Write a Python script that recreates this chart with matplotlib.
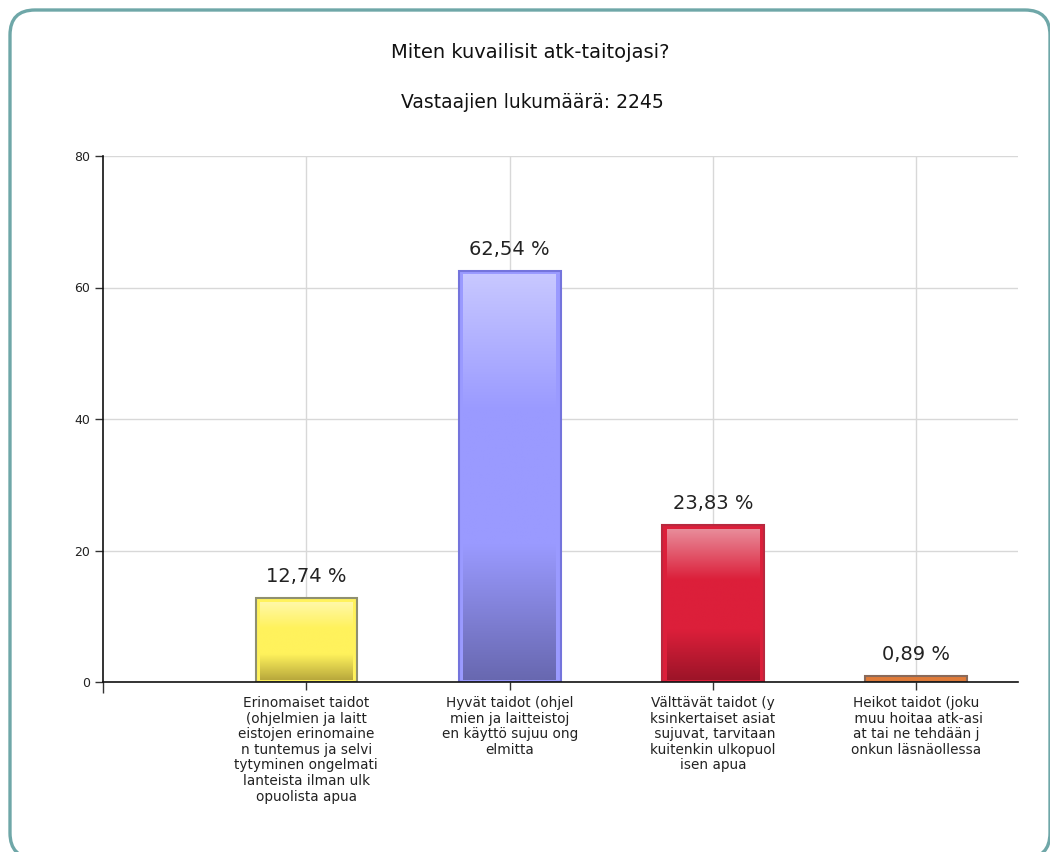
import numpy as np
import matplotlib
matplotlib.use("Agg")
from matplotlib import pyplot as plt
from matplotlib.patches import FancyBboxPatch, Rectangle
from matplotlib.colors import LinearSegmentedColormap
from matplotlib.transforms import IdentityTransform

title = "Miten kuvailisit atk-taitojasi?"
subtitle = "Vastaajien lukumäärä: 2245"

categories = [
    "Erinomaiset taidot\n(ohjelmien ja laitt\neistojen erinomaine\nn tuntemus ja selvi\ntytyminen ongelmati\nlanteista ilman ulk\nopuolista apua",
    "Hyvät taidot (ohjel\nmien ja laitteistoj\nen käyttö sujuu ong\nelmitta",
    "Välttävät taidot (y\nksinkertaiset asiat\n sujuvat, tarvitaan\nkuitenkin ulkopuol\nisen apua",
    "Heikot taidot (joku\n muu hoitaa atk-asi\nat tai ne tehdään j\nonkun läsnäollessa",
]
percents = [12.74, 62.54, 23.83, 0.89]
yticks = [0, 20, 40, 60, 80]

# (top, middle, bottom, edge) colours per bar
bar_colors = [
    ("#fff8a8", "#fff25c", "#b8a83c", "#8f9070"),
    ("#c8c8ff", "#9a9aff", "#6868b0", "#7474dc"),
    ("#e88c9a", "#dc1f3a", "#9c1428", "#b8283e"),
    ("#e8884a", "#e07b39", "#c8682c", "#8a6a5a"),
]

fig = plt.figure(figsize=(10.5, 8.52), dpi=100)
fig.patch.set_facecolor("white")

# rounded teal frame in pixel units, running off the right and bottom edges
frame = FancyBboxPatch((10, -6), 1040, 848, boxstyle="round,pad=0,rounding_size=25",
                       transform=IdentityTransform(), facecolor="none", edgecolor="#6fa7a8",
                       linewidth=2.4, zorder=-1)
fig.patches.append(frame)

ax = fig.add_axes([103 / 1050, 1 - 682 / 852, 915 / 1050, 526 / 852])
ax.set_facecolor("none")
ax.set_xlim(0, 4.5)
ax.set_ylim(0, 80)

x = np.arange(1, len(percents) + 1)
w = 0.5
for xi, val, (ctop, cmid, cbot, cedge) in zip(x, percents, bar_colors):
    x0 = xi - w / 2
    ax.add_patch(Rectangle((x0, 0), w, val, facecolor=cmid, edgecolor=cedge, linewidth=1.5, zorder=3))
    # inner gradient panel
    dx = 0.022
    dy = 4 * 80 / 526
    if val > 2 * dy:
        cmap = LinearSegmentedColormap.from_list("g", [cbot, cmid, cmid, ctop], N=256)
        grad = np.linspace(0, 1, 256).reshape(-1, 1)
        ax.imshow(grad, cmap=cmap, aspect="auto", origin="lower",
                  extent=(x0 + dx, x0 + w - dx, dy * 0.5, val - dy), zorder=4, interpolation="bilinear")
    ax.text(xi, val + 1.8, f"{val:.2f} %".replace(".", ","), ha="center", va="bottom",
            fontsize=14, color="#222222", zorder=5)

ax.set_xticks(x)
ax.set_xticklabels(categories, fontsize=9.8, color="#222222", linespacing=1.15)
ax.set_xticks([0], minor=True)
ax.set_yticks(yticks)
ax.set_yticklabels([str(v) for v in yticks], fontsize=9, color="#222222")
ax.tick_params(axis="both", which="both", direction="out", length=6, width=1, color="#333333")
ax.tick_params(axis="x", which="minor", length=8)
ax.tick_params(axis="x", pad=4)

ax.grid(True, color="#d8d8d8", linewidth=1, zorder=0)
ax.set_axisbelow(True)
for s in ["top", "right"]:
    ax.spines[s].set_visible(False)
for s in ["left", "bottom"]:
    ax.spines[s].set_color("#111111")
    ax.spines[s].set_linewidth(1.2)
    ax.spines[s].set_zorder(6)
ax.set_xlim(0, 4.5)
ax.set_ylim(0, 80)

fig.text(0.505, 1 - 53 / 852, title, ha="center", va="center", fontsize=14, color="#111111")
fig.text(0.507, 1 - 103 / 852, subtitle, ha="center", va="center", fontsize=13.5, color="#111111")

fig.savefig("out.png", dpi=100)
